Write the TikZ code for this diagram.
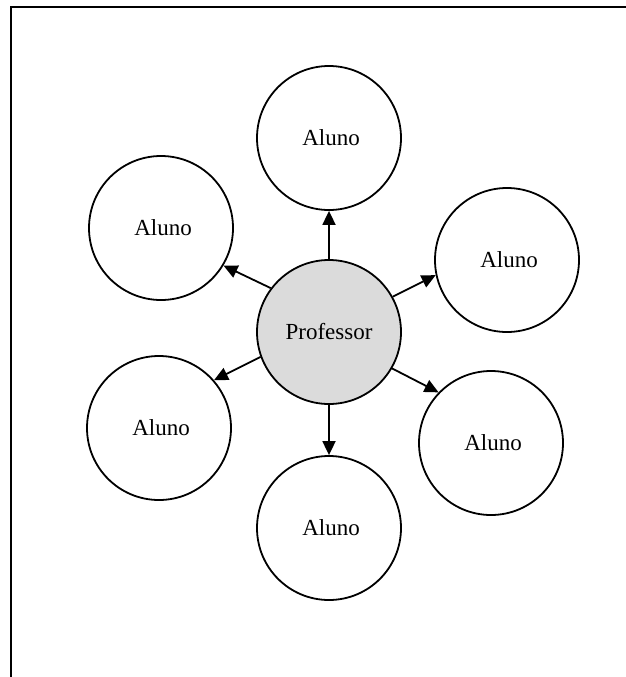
\documentclass[tikz,border=0pt]{standalone}
\usepackage{fontspec}
\setmainfont{Liberation Serif}
\usetikzlibrary{arrows.meta}
\begin{document}
\begin{tikzpicture}[x=1pt,y=-1pt,
  person/.style={circle,draw=black,line width=1.8pt,minimum size=144pt,inner sep=0pt,
    font=\fontsize{23}{27}\selectfont},
  student/.style={person,fill=white},
  teacher/.style={person,fill=gray!28},
  link/.style={line width=1.8pt,-{Triangle[length=14pt,width=13pt]}}]
\useasboundingbox (0,0) rectangle (625,677);
% page frame (runs past the right and bottom edges)
\draw[line width=2pt] (11,700) -- (11,7) -- (660,7);

\node[teacher] (prof) at (329,332) {Professor};
\node[student] (aN)  at (329,138) {\hspace{4pt}Aluno};
\node[student] (aNW) at (161,228) {\hspace{4pt}Aluno};
\node[student] (aNE) at (507,260) {\hspace{4pt}Aluno};
\node[student] (aSW) at (159,428) {\hspace{4pt}Aluno};
\node[student] (aSE) at (491,443) {\hspace{4pt}Aluno};
\node[student] (aS)  at (329,528) {\hspace{4pt}Aluno};

\draw[link] (prof.90)  -- (aN.270);
\draw[link] (prof.143) -- (aNW.-31);
\draw[link] (prof.29)  -- (aNE.192);
\draw[link] (prof.200) -- (aSW.41);
\draw[link] (prof.-30) -- (aSE.136);
\draw[link] (prof.270) -- (aS.90);
\end{tikzpicture}
\end{document}
